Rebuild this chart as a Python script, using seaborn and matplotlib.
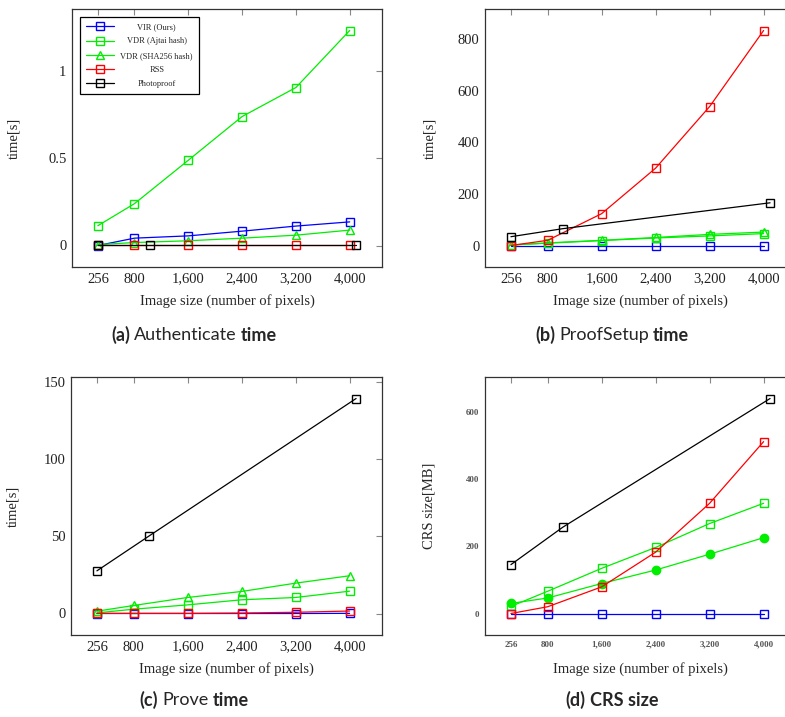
import numpy as np
import pandas as pd
import matplotlib
matplotlib.use("Agg")
import matplotlib.pyplot as plt
import seaborn as sns
from matplotlib.ticker import FixedLocator, FuncFormatter

# x positions (number of pixels)
x_main = [256, 800, 1600, 2400, 3200, 4000]
x_photo = [256, 1024, 4096]
x_ticks = [256, 800, 1600, 2400, 3200, 4000]

series_names = ["VIR (Ours)", "VDR (Ajtai hash)", "VDR (SHA256 hash)", "RSS", "Photoproof"]

# (a) Authenticate time [s]
auth_vir = [0.0, 0.042, 0.055, 0.082, 0.111, 0.135]
auth_ajtai = [0.113, 0.239, 0.487, 0.737, 0.903, 1.229]
auth_sha = [0.005, 0.017, 0.027, 0.042, 0.059, 0.088]
auth_rss = [0.001, 0.001, 0.001, 0.001, 0.001, 0.001]
auth_photo = [0.002, 0.002, 0.002]

# (b) ProofSetup time [s]
setup_vir = [1, 1, 1, 1, 1, 1]
setup_ajtai = [3, 10, 20, 30, 38, 47]
setup_sha = [3, 11, 21, 32, 44, 53]
setup_rss = [1, 21, 124, 300, 538, 832]
setup_photo = [35, 66, 166]

# (c) Prove time [s]
prove_vir = [0.0, 0.0, 0.0, 0.0, 0.0, 0.1]
prove_ajtai = [0.4, 2.8, 5.6, 8.9, 10.4, 14.5]
prove_sha = [1.5, 5.2, 10.4, 14.3, 19.7, 24.5]
prove_rss = [0.1, 0.1, 0.1, 0.3, 0.8, 1.6]
prove_photo = [27.7, 50.2, 139.6]

# (d) CRS size [MB]
crs_vir = [1, 1, 1, 1, 1, 1]
crs_ajtai = [22, 67, 135, 197, 268, 328]
crs_sha = [31, 47, 90, 130, 177, 226]
crs_rss = [1, 21, 80, 183, 328, 511]
crs_photo = [146, 257, 639]

y_ticks_a = [0, 0.5, 1]
y_ticks_b = [0, 200, 400, 600, 800]
y_ticks_c = [0, 50, 100, 150]
y_ticks_d = [0, 200, 400, 600]

colors = ["#0000ff", "#00ee00", "#00ee00", "#ff0000", "#000000"]

sns.set_theme(style="white")
plt.rcParams["font.family"] = ["Liberation Serif", "DejaVu Serif"]

W, H = 785, 717
fig = plt.figure(figsize=(W / 100, H / 100), dpi=100)


def px_axes(left, top, width=311, height=258):
    return fig.add_axes([left / W, 1 - (top + height) / H, width / W, height / H])


ax_a = px_axes(72, 9, 310)
ax_b = px_axes(485, 9)
ax_c = px_axes(71, 377)
ax_d = px_axes(485, 377)


def draw_panel(ax, ys, yticks, ylabel, sha_marker="^", small=False):
    xs_all = [x_main, x_main, x_main, x_main, x_photo]
    markers = ["s", "s", sha_marker, "s", "s"]
    for name, xs, yv, c, m in zip(series_names, xs_all, ys, colors, markers):
        face = c if m == "o" else "none"
        ms = 6 if m == "o" else 5.5
        sns.lineplot(x=xs, y=yv, ax=ax, color=c, marker=m, markersize=ms,
                     markerfacecolor=face, markeredgecolor=c, markeredgewidth=1.0,
                     linewidth=0.9, label=name, sort=False, errorbar=None)
    if ax.get_legend() is not None:
        ax.get_legend().remove()
    ax.margins(x=0.1, y=0.1)
    ax.autoscale_view()
    ax.xaxis.set_major_locator(FixedLocator(x_ticks))
    ax.xaxis.set_major_formatter(FuncFormatter(lambda v, _: f"{int(v):,}"))
    ax.yaxis.set_major_locator(FixedLocator(yticks))
    ax.yaxis.set_major_formatter(FuncFormatter(lambda v, _: f"{v:g}"))
    fs = 6.5 if small else 10.5
    tc = "#555555" if small else "#222222"
    ax.tick_params(direction="in", length=4, width=0.8, color="#888888",
                   top=True, right=True, labelsize=fs, labelcolor=tc, pad=4)
    if small:
        for t in ax.get_xticklabels() + ax.get_yticklabels():
            t.set_fontweight("bold")
    for sp in ax.spines.values():
        sp.set_color("#333333")
        sp.set_linewidth(0.9)
    ax.set_xlabel("Image size (number of pixels)", fontsize=10.5)
    ax.xaxis.set_label_coords(0.5, -0.105)
    ax.set_ylabel(ylabel, fontsize=10.5)
    ax.grid(False)


draw_panel(ax_a, [auth_vir, auth_ajtai, auth_sha, auth_rss, auth_photo], y_ticks_a, "time[s]")
draw_panel(ax_b, [setup_vir, setup_ajtai, setup_sha, setup_rss, setup_photo], y_ticks_b, "time[s]")
draw_panel(ax_c, [prove_vir, prove_ajtai, prove_sha, prove_rss, prove_photo], y_ticks_c, "time[s]")
draw_panel(ax_d, [crs_vir, crs_ajtai, crs_sha, crs_rss, crs_photo], y_ticks_d, "CRS size[MB]",
           sha_marker="o", small=True)

ax_a.yaxis.set_label_coords(-0.165, 0.5)
ax_b.yaxis.set_label_coords(-0.155, 0.5)
ax_c.yaxis.set_label_coords(-0.165, 0.5)
ax_d.yaxis.set_label_coords(-0.16, 0.5)

leg = ax_a.legend(loc="upper left", bbox_to_anchor=(0.026, 0.969), borderaxespad=0,
                  fontsize=6, handlelength=3.3, handletextpad=0.8, borderpad=0.75,
                  labelspacing=0.75, fancybox=False, framealpha=1, edgecolor="black")
leg.get_frame().set_linewidth(0.9)

# centre the legend labels in their column, like the original
renderer = fig.canvas.get_renderer()
label_widths = [t.get_window_extent(renderer).width for t in leg.get_texts()]
max_w = max(label_widths)
for t, w in zip(leg.get_texts(), label_widths):
    t.set_x((max_w - w) / 2)

# captions with mixed weights
CAP_FONT = ["Lato", "DejaVu Sans"]


def caption(cx, cy, parts, fs=13):
    r = fig.canvas.get_renderer()
    texts = [fig.text(0, 1 - cy / H, s, fontsize=fs, fontweight=w, family=CAP_FONT,
                      va="center", ha="left") for s, w in parts]
    widths = [t.get_window_extent(r).width for t in texts]
    gap = 4
    total = sum(widths) + gap * (len(parts) - 1)
    x = cx - total / 2
    for t, w in zip(texts, widths):
        t.set_x(x / W)
        x += w + gap


caption(194, 335, [("(a)", "bold"), ("Authenticate", "normal"), ("time", "bold")])
caption(612, 335, [("(b)", "bold"), ("ProofSetup", "normal"), ("time", "bold")])
caption(194, 700, [("(c)", "bold"), ("Prove", "normal"), ("time", "bold")])
caption(612, 700, [("(d)", "bold"), ("CRS size", "bold")])

fig.savefig("out.png", dpi=100)
